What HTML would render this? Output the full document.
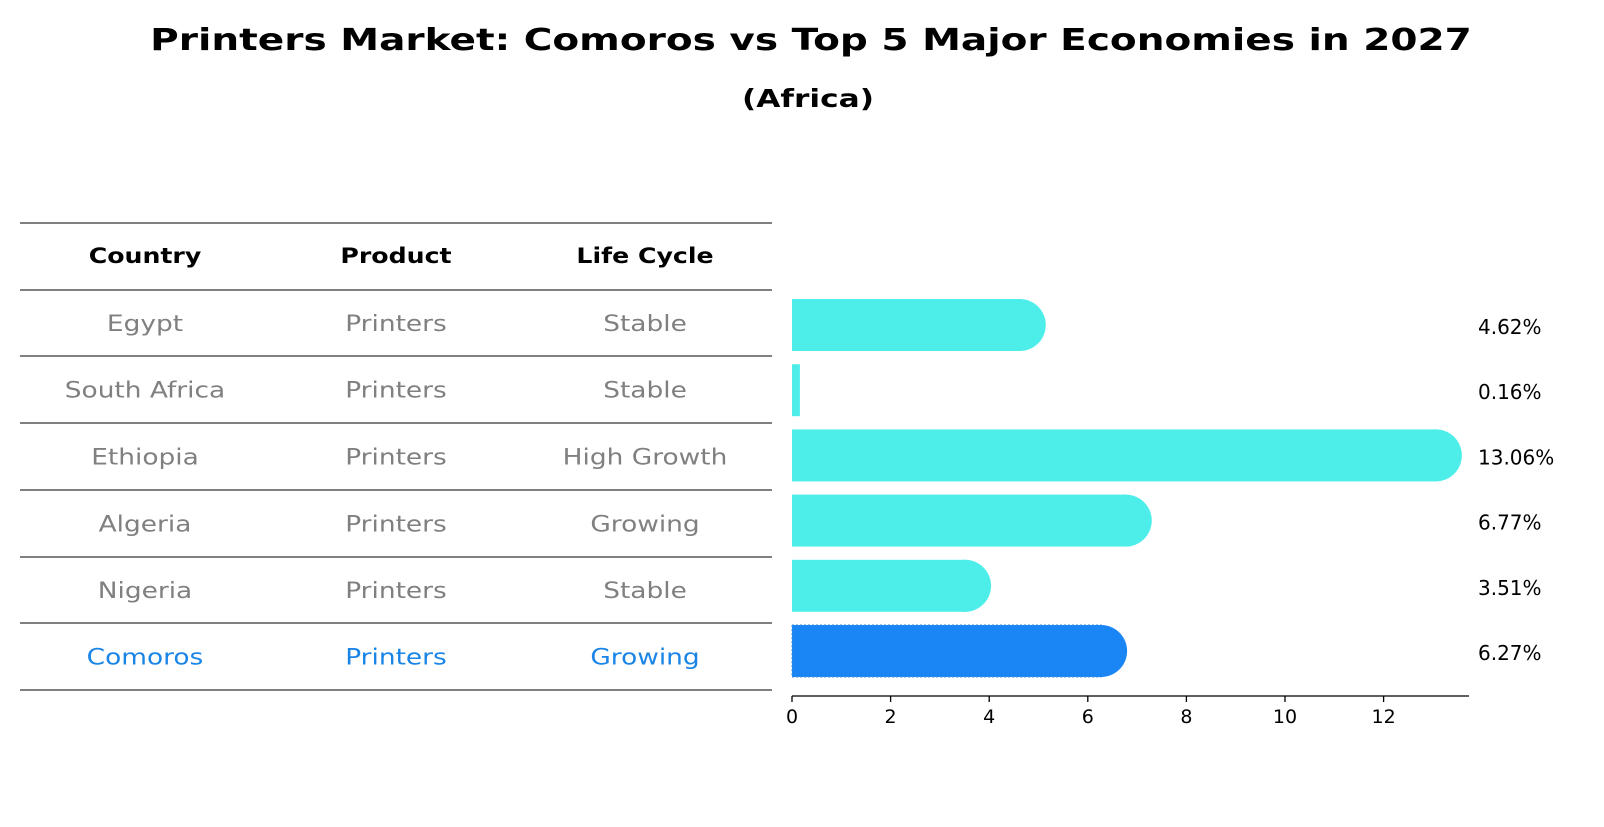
<!DOCTYPE html>
<html><head><meta charset="utf-8"><style>
body{margin:0;background:#fff;font-family:"DejaVu Sans","Liberation Sans",sans-serif;}
svg text{font-family:"DejaVu Sans","Liberation Sans",sans-serif;}
</style></head><body>
<svg id="c" width="1604" height="823" xmlns="http://www.w3.org/2000/svg">
<text id="ttl" x="811" y="50" text-anchor="middle" font-size="30" font-weight="bold">Printers Market: Comoros vs Top 5 Major Economies in 2027</text>
<text id="sub" x="808" y="107" text-anchor="middle" font-size="25" font-weight="bold">(Africa)</text>
<g id="table"></g>
<g id="bars"></g>
<g id="axis"></g>
</svg>
<script>
const countries=["Egypt","South Africa","Ethiopia","Algeria","Nigeria","Comoros"];
const products=["Printers","Printers","Printers","Printers","Printers","Printers"];
const lifecycle=["Stable","Stable","High Growth","Growing","Stable","Growing"];
const values=[4.62,0.16,13.06,6.77,3.51,6.27];
const ticks=[0,2,4,6,8,10,12];
const NS="http://www.w3.org/2000/svg";
const x0=792,ppu=49.3;
function xs(v){return x0+v*ppu;}
function rowC(i){return 325+i*65.2;}
function mk(tag,attrs,parent){const e=document.createElementNS(NS,tag);for(const k in attrs)e.setAttribute(k,attrs[k]);parent.appendChild(e);return e;}
function widen(t,k){const w=t.getComputedTextLength();t.setAttribute('textLength',w*k);t.setAttribute('lengthAdjust','spacingAndGlyphs');}
const T=document.getElementById('table'),B=document.getElementById('bars'),A=document.getElementById('axis');
widen(document.getElementById('ttl'),1.3);
widen(document.getElementById('sub'),1.25);
const colX=[145,396,645];
const lines=[223,290,356,423,490,557,623,690];
lines.forEach((y,i)=>{const l=mk('line',{x1:20,x2:772,y1:y,y2:y,stroke:'#000','stroke-width':1},T);

});
["Country","Product","Life Cycle"].forEach((h,j)=>{const t=mk('text',{x:colX[j],y:263,'text-anchor':'middle','font-size':21,'font-weight':'bold'},T);t.textContent=h;


widen(t,1.2);});
countries.forEach((c,i)=>{
 const y=(lines[i+1]+lines[i+2])/2+8;
 const col=i===countries.length-1?'#1a85e6':'#808080';
 [c,products[i],lifecycle[i]].forEach((s,j)=>{const t=mk('text',{x:colX[j],y:y,'text-anchor':'middle','font-size':22,fill:col},T);t.textContent=s;
 
 
 widen(t,1.2);});
 const hl=i===countries.length-1;
 const fill=hl?'#1a85f5':'#4deeea';
 const cy=rowC(i),h=52,w=xs(values[i])-x0;
 const r=mk('rect',{x:x0,y:cy-h/2,width:w,height:h,fill:fill},B);
 if(hl){r.setAttribute('stroke','#3a8fe0');r.setAttribute('stroke-dasharray','2,2');}
 
 
 if(values[i]>1){const ci=mk('circle',{cx:xs(values[i]),cy:cy,r:h/2,fill:fill},B);
 
 }
 const lb=mk('text',{x:1478,y:cy+9,'font-size':20},B);lb.textContent=values[i].toFixed(2)+'%';
 
 
});
const ay=696;
const al=mk('line',{x1:x0,x2:1469,y1:ay,y2:ay,stroke:'#000','stroke-width':1.3},A);


ticks.forEach(v=>{const tk=mk('line',{x1:xs(v),x2:xs(v),y1:ay,y2:ay+6,stroke:'#000','stroke-width':1.3},A);


const t=mk('text',{x:xs(v),y:ay+27,'text-anchor':'middle','font-size':19},A);t.textContent=v;

});
</script>
</body></html>
